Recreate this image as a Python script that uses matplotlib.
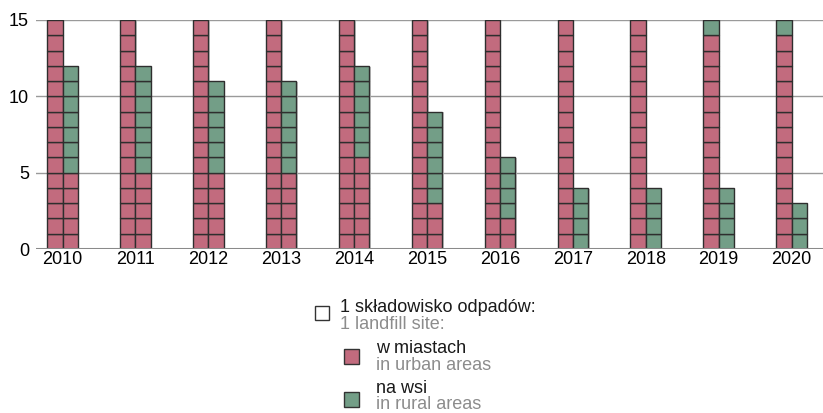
import matplotlib.pyplot as plt
from matplotlib.patches import Rectangle

plt.rcParams['font.family'] = ['Liberation Sans', 'DejaVu Sans']

years = [2010, 2011, 2012, 2013, 2014, 2015, 2016, 2017, 2018, 2019, 2020]
# number of landfill sites (1 square = 1 site)
urban = [20, 20, 20, 20, 21, 18, 17, 15, 15, 14, 14]
rural = [7, 7, 6, 6, 6, 6, 4, 4, 4, 5, 4]

col_height = 15
pink = '#c26b7e'
green = '#739e87'
edge = '#2e2e2e'
fs = 13

W, H = 823, 413
fig = plt.figure(figsize=(W / 100, H / 100), dpi=100)

# main chart axes, in pixels: left 36, bottom 249, top 20
left = 36
ax = fig.add_axes([left / W, (H - 249) / H, (W - left) / W, 229 / H])
cell = 229 / col_height  # px per unit
ax.set_xlim(0, (W - left) / cell)
ax.set_ylim(0, col_height)

x0 = (62.5 - left) / cell
step = 72.9 / cell

for g in [5, 10, 15]:
    ax.axhline(g, color='#9a9a9a', lw=1, zorder=1)
ax.axhline(0, color='#8a8a8a', lw=2.2, zorder=4)

centers = []
for i, y in enumerate(years):
    c = x0 + i * step
    centers.append(c)
    n_u = urban[i]
    n_tot = urban[i] + rural[i]
    for k in range(n_tot):
        col = k // col_height
        row = k % col_height
        xl = c - 1 + col
        # light shadow
        ax.add_patch(Rectangle((xl + 0.1, row - 0.05), 1, 1, facecolor='#c8c8c8',
                               edgecolor='none', zorder=2))
    for k in range(n_tot):
        col = k // col_height
        row = k % col_height
        xl = c - 1 + col
        color = pink if k < n_u else green
        ax.add_patch(Rectangle((xl, row), 1, 1, facecolor=color,
                               edgecolor=edge, lw=1, zorder=3))

ax.set_xticks(centers)
ax.set_xticklabels([str(y) for y in years], fontsize=fs)
ax.set_yticks([0, 5, 10, 15])
ax.set_yticklabels(['0', '5', '10', '15'], fontsize=fs)
ax.tick_params(axis='x', length=0, pad=1.5)
ax.tick_params(axis='y', length=0, pad=5)
for s in ax.spines.values():
    s.set_visible(False)

# legend drawn in pixel coordinates
lg = fig.add_axes([0, 0, 1, 1], zorder=5)
lg.set_xlim(0, W)
lg.set_ylim(H, 0)
lg.axis('off')
lg.patch.set_alpha(0)

lg.add_patch(Rectangle((315, 306), 14, 14, facecolor='white', edgecolor='#333333', lw=1))
lg.text(340, 312, '1 składowisko odpadów:', fontsize=fs, color='#1a1a1a', va='baseline')
lg.text(340, 329, '1 landfill site:', fontsize=fs, color='#8c8c8c', va='baseline')

lg.add_patch(Rectangle((344, 349), 15, 15, facecolor=pink, edgecolor='#333333', lw=1))
lg.text(376, 353, 'w miastach', fontsize=fs, color='#1a1a1a', va='baseline')
lg.text(376, 370, 'in urban areas', fontsize=fs, color='#8c8c8c', va='baseline')

lg.add_patch(Rectangle((344, 392), 15, 15, facecolor=green, edgecolor='#333333', lw=1))
lg.text(376, 393, 'na wsi', fontsize=fs, color='#1a1a1a', va='baseline')
lg.text(376, 409, 'in rural areas', fontsize=fs, color='#8c8c8c', va='baseline')

fig.savefig('out.png', dpi=100)
